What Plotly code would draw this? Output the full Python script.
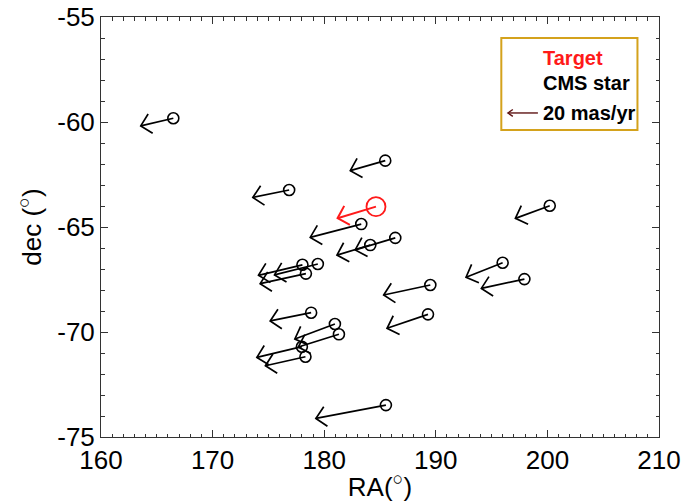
import math
import plotly.graph_objects as go

# Comoving stars: position (deg) and proper motion (mas/yr)
star_ra = [166.48, 185.47, 176.86, 183.32, 186.37, 184.13, 179.43, 178.05,
           178.36, 200.21, 195.99, 197.94, 189.51, 189.30, 178.83, 180.96,
           181.32, 178.00, 178.32, 185.53]
star_dec = [-59.82, -61.84, -63.24, -64.86, -65.52, -65.86, -66.76, -66.80,
            -67.22, -63.99, -66.70, -67.48, -67.76, -69.16, -69.08, -69.62,
            -70.11, -70.70, -71.18, -73.48]
star_pmra = [-21.7, -23.3, -24.2, -34.0, -26.7, -22.2, -28.9, -29.3,
             -30.5, -22.9, -24.4, -28.7, -31.1, -27.3, -27.3, -26.7,
             -27.1, -30.0, -26.7, -46.7]
star_pmdec = [-5.1, -6.7, -4.9, -8.9, -8.0, -6.7, -7.3, -7.0,
              -6.7, -8.4, -9.7, -6.2, -6.7, -9.3, -5.5, -10.0,
              -8.5, -7.1, -6.0, -8.9]

# Target star
target_ra = [184.64]
target_dec = [-64.03]
target_pmra = [-25.6]
target_pmdec = [-7.7]

# Reference arrow length for the key
key_pm = 20.0

X_RANGE = [160, 210]
Y_RANGE = [-75, -55]
X_TICKS = [160, 170, 180, 190, 200, 210]
X_LABELS = ["160", "170", "180", "190", "200", "210"]
Y_TICKS = [-75, -70, -65, -60, -55]
Y_LABELS = ["-75", "-70", "-65", "-60", "-55"]

WIDTH, HEIGHT = 696, 502
MARGIN = dict(l=101, r=37, t=17, b=65)
PX_PER_MAS = 1.5  # arrow length scale on screen

px_x = (WIDTH - MARGIN["l"] - MARGIN["r"]) / (X_RANGE[1] - X_RANGE[0])
px_y = (HEIGHT - MARGIN["t"] - MARGIN["b"]) / (Y_RANGE[1] - Y_RANGE[0])


def arrow_path(x0, y0, pmx, pmy, head=14.0, half_angle=45.0):
    """Shaft from (x0, y0) along the proper motion, ending in an open '<' head."""
    dxp, dyp = pmx * PX_PER_MAS, pmy * PX_PER_MAS
    tx, ty = x0 + dxp / px_x, y0 + dyp / px_y
    back = math.atan2(dyp, dxp) + math.pi
    arms = []
    for s in (1, -1):
        a = back + s * math.radians(half_angle)
        arms.append((tx + head * math.cos(a) / px_x, ty + head * math.sin(a) / px_y))
    xs = [x0, tx, None, arms[0][0], tx, arms[1][0], None]
    ys = [y0, ty, None, arms[0][1], ty, arms[1][1], None]
    return xs, ys


def arrows(ras, decs, pmras, pmdecs, **kw):
    xs, ys = [], []
    for x0, y0, pmx, pmy in zip(ras, decs, pmras, pmdecs):
        ax, ay = arrow_path(x0, y0, pmx, pmy, **kw)
        xs += ax
        ys += ay
    return xs, ys


fig = go.Figure()

sx, sy = arrows(star_ra, star_dec, star_pmra, star_pmdec)
fig.add_trace(go.Scatter(x=sx, y=sy, mode="lines",
                         line=dict(color="black", width=1.7),
                         hoverinfo="skip", showlegend=False))
fig.add_trace(go.Scatter(x=star_ra, y=star_dec, mode="markers",
                         marker=dict(symbol="circle-open", size=11, color="black",
                                     line=dict(width=1.6, color="black")),
                         showlegend=False))

tx, ty = arrows(target_ra, target_dec, target_pmra, target_pmdec)
fig.add_trace(go.Scatter(x=tx, y=ty, mode="lines",
                         line=dict(color="#ff1a1a", width=2),
                         hoverinfo="skip", showlegend=False))
fig.add_trace(go.Scatter(x=target_ra, y=target_dec, mode="markers",
                         marker=dict(symbol="circle-open", size=19, color="#ff1a1a",
                                     line=dict(width=1.8, color="#ff1a1a")),
                         showlegend=False))

# Key box
fig.add_shape(type="rect", xref="x", yref="y",
              x0=195.87, x1=208.07, y0=-60.38, y1=-56.0,
              line=dict(color="#d4a21c", width=2), fillcolor="white", layer="below")

key_font = "Liberation Sans Narrow, Liberation Sans, Arial, sans-serif"
fig.add_annotation(x=199.4, y=-56.95, xref="x", yref="y", text="<b>Target</b>",
                   showarrow=False, xanchor="left", yanchor="middle",
                   font=dict(family=key_font, size=20, color="#ff1a1a"))
fig.add_annotation(x=199.4, y=-58.14, xref="x", yref="y", text="<b>CMS star</b>",
                   showarrow=False, xanchor="left", yanchor="middle",
                   font=dict(family=key_font, size=20, color="black"))
fig.add_annotation(x=199.4, y=-59.55, xref="x", yref="y", text="<b>20 mas/yr</b>",
                   showarrow=False, xanchor="left", yanchor="middle",
                   font=dict(family=key_font, size=20, color="black"))

kx, ky = arrow_path(199.15, -59.57, -key_pm, 0.0, head=6.0, half_angle=35.0)
fig.add_trace(go.Scatter(x=kx, y=ky, mode="lines",
                         line=dict(color="#5e1414", width=1.4),
                         hoverinfo="skip", showlegend=False))

axis_common = dict(
    automargin=False,
    showline=True, linecolor="#333333", linewidth=1, mirror="allticks",
    ticks="inside", ticklen=7, tickwidth=1, tickcolor="#333333",
    showgrid=False, zeroline=False,
    tickfont=dict(family="Liberation Sans, Arial, sans-serif", size=26, color="black"),
    minor=dict(ticks="inside", ticklen=3.5, tickwidth=1, tickcolor="#333333", dtick=1,
               showgrid=False),
)

fig.update_xaxes(range=X_RANGE, tickvals=X_TICKS, ticktext=X_LABELS,
                 title=dict(text="RA(<sup>○</sup>)", standoff=4,
                            font=dict(family="Liberation Sans, Arial, sans-serif",
                                      size=26, color="black")),
                 **axis_common)
fig.update_yaxes(range=Y_RANGE, tickvals=Y_TICKS, ticktext=Y_LABELS,
                 title=dict(text="dec (<sup>○</sup>)", standoff=8,
                            font=dict(family="Liberation Sans, Arial, sans-serif",
                                      size=26, color="black")),
                 **axis_common)

fig.update_layout(width=WIDTH, height=HEIGHT, margin=MARGIN,
                  paper_bgcolor="white", plot_bgcolor="white", showlegend=False)

fig.write_html("out.html")
